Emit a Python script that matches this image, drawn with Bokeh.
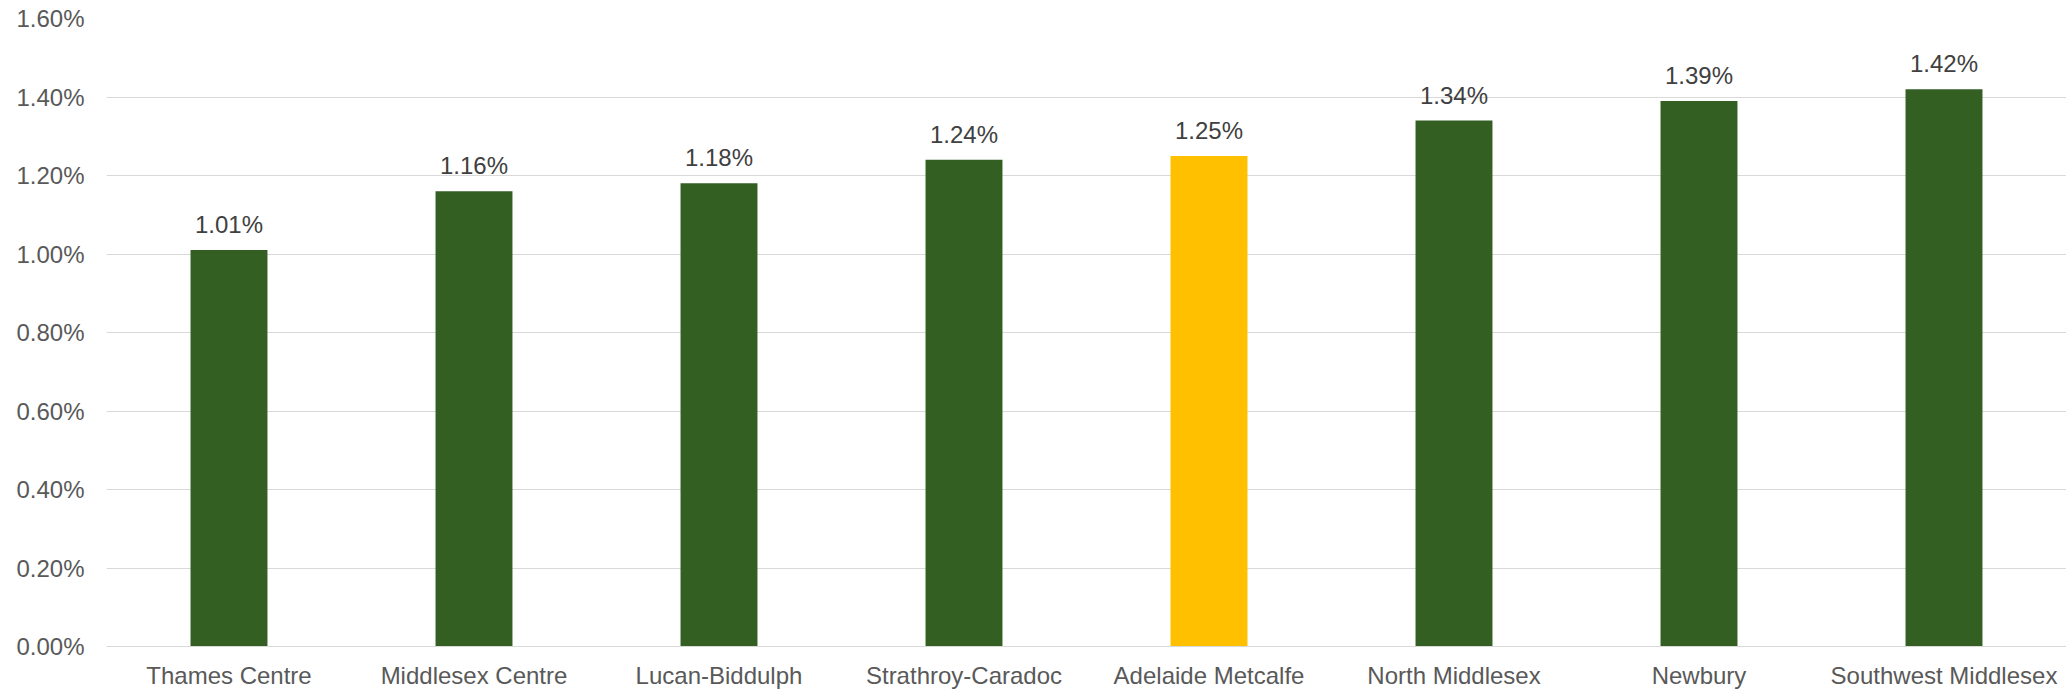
from bokeh.plotting import figure
from bokeh.models import ColumnDataSource, FixedTicker, NumeralTickFormatter, LabelSet, Range1d
from bokeh.core.properties import value
from bokeh.embed import file_html
from bokeh.resources import INLINE

# Municipality names and their rates (as fractions)
municipalities = [
    "Thames Centre", "Middlesex Centre", "Lucan-Biddulph", "Strathroy-Caradoc",
    "Adelaide Metcalfe", "North Middlesex", "Newbury", "Southwest Middlesex",
]
rates = [0.0101, 0.0116, 0.0118, 0.0124, 0.0125, 0.0134, 0.0139, 0.0142]
highlight = "Adelaide Metcalfe"
y_ticks = [0.0, 0.002, 0.004, 0.006, 0.008, 0.010, 0.012, 0.014, 0.016]

GREEN = "#335F23"
GOLD = "#FFC000"
FONT = "Liberation Sans"
SIZE = "24px"

colors = [GOLD if m == highlight else GREEN for m in municipalities]
labels = [f"{r * 100:.2f}%" for r in rates]
src = ColumnDataSource(dict(x=municipalities, top=rates, color=colors, label=labels))

p = figure(
    x_range=municipalities, width=2066, height=691,
    output_backend="svg", toolbar_location=None,
    min_border_left=106, min_border_right=0, min_border_top=18, min_border_bottom=44,
)
p.y_range = Range1d(0, 0.016)
p.outline_line_color = None
p.background_fill_color = "white"
p.border_fill_color = "white"

p.vbar(x="x", top="top", width=0.314, color="color", line_color=None, source=src)

p.add_layout(LabelSet(
    x="x", y="top", text="label", source=src, y_offset=17,
    text_align="center", text_baseline="alphabetic",
    text_font=value(FONT), text_font_size=value(SIZE), text_color="#404040",
))

# Axes
p.yaxis.ticker = FixedTicker(ticks=y_ticks)
p.yaxis.formatter = NumeralTickFormatter(format="0.00%")
p.yaxis.axis_line_color = None
p.yaxis.major_tick_line_color = None
p.yaxis.minor_tick_line_color = None
p.yaxis.major_tick_out = 0
p.yaxis.major_tick_in = 0
p.yaxis.minor_tick_out = 0
p.yaxis.major_label_standoff = 22
p.yaxis.major_label_text_font = FONT
p.yaxis.major_label_text_font_size = SIZE
p.yaxis.major_label_text_color = "#595959"

p.xaxis.axis_line_color = "#D9D9D9"
p.xaxis.axis_line_width = 1
p.xaxis.major_tick_line_color = None
p.xaxis.minor_tick_line_color = None
p.xaxis.major_tick_out = 0
p.xaxis.major_tick_in = 0
p.xaxis.minor_tick_out = 0
p.xaxis.major_label_standoff = 15
p.xaxis.major_label_text_font = FONT
p.xaxis.major_label_text_font_size = SIZE
p.xaxis.major_label_text_color = "#595959"

p.xgrid.grid_line_color = None
p.ygrid.grid_line_color = "#D9D9D9"
p.ygrid.grid_line_width = 1

open("out.html", "w").write(file_html(p, INLINE))
